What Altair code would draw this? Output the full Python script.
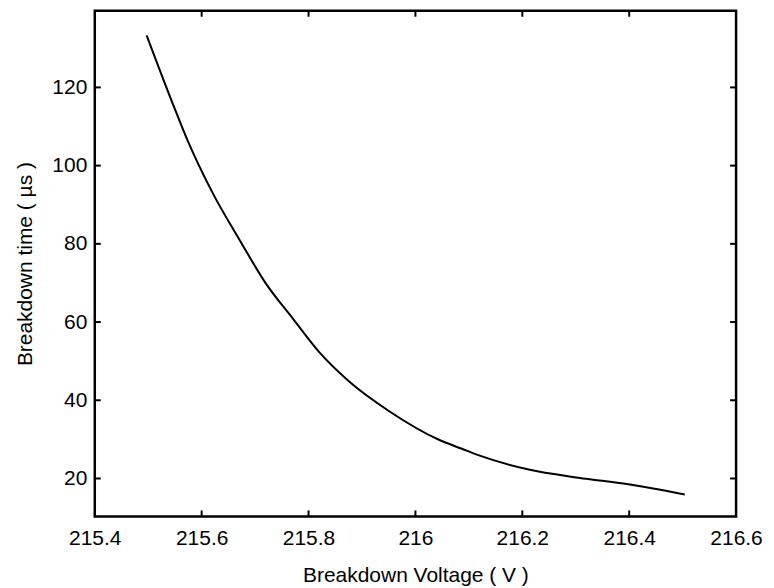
import altair as alt
import pandas as pd

voltage = [215.497, 215.546, 215.571, 215.621, 215.671, 215.720, 215.770,
           215.820, 215.876, 215.951, 216.044, 216.087, 216.119, 216.212, 216.305,
           216.398, 216.504]
time_us = [133.3, 115.8, 107.3, 92.9, 81.0, 69.9, 61.0,
           52.3, 44.8, 37.2, 29.9, 27.6, 25.9, 22.3, 20.2,
           18.5, 15.9]

x_ticks = [215.4, 215.6, 215.8, 216.0, 216.2, 216.4, 216.6]
y_ticks = [20, 40, 60, 80, 100, 120]
x_inner_ticks = [215.6, 215.8, 216.0, 216.2, 216.4]

W, H = 643, 507
FONT = "Liberation Sans"

df = pd.DataFrame({"v": voltage, "t": time_us})
xt = pd.DataFrame({"v": x_inner_ticks})
yt = pd.DataFrame({"t": y_ticks})

xscale = alt.Scale(domain=[215.4, 216.6], nice=False, zero=False)
yscale = alt.Scale(domain=[10.3, 139.6], nice=False, zero=False)

line = alt.Chart(df).mark_line(color="black", strokeWidth=2, interpolate="monotone").encode(
    x=alt.X("v:Q", scale=xscale,
            axis=alt.Axis(values=x_ticks, title="Breakdown Voltage ( V )",
                          labelExpr="datum.value == 216 ? '216' : format(datum.value, '.1f')",
                          tickSize=0, domain=False, grid=False,
                          labelFontSize=21, labelFont=FONT, labelColor="black",
                          labelPadding=11, labelFlush=False,
                          titleFontSize=21, titleFont=FONT, titleFontWeight="normal",
                          titleColor="black", titlePadding=16)),
    y=alt.Y("t:Q", scale=yscale,
            axis=alt.Axis(values=y_ticks, title="Breakdown time ( µs )",
                          tickSize=0, domain=False, grid=False,
                          labelFontSize=21, labelFont=FONT, labelColor="black",
                          labelPadding=8, labelFlush=False,
                          titleFontSize=21, titleFont=FONT, titleFontWeight="normal",
                          titleColor="black", titlePadding=16)),
)

xtick_bottom = alt.Chart(xt).mark_rule(color="black", strokeWidth=2).encode(
    x=alt.X("v:Q", scale=xscale), y=alt.value(H), y2=alt.value(H - 6))
xtick_top = alt.Chart(xt).mark_rule(color="black", strokeWidth=2).encode(
    x=alt.X("v:Q", scale=xscale), y=alt.value(0), y2=alt.value(6))
ytick_left = alt.Chart(yt).mark_rule(color="black", strokeWidth=2).encode(
    y=alt.Y("t:Q", scale=yscale), x=alt.value(0), x2=alt.value(6))
ytick_right = alt.Chart(yt).mark_rule(color="black", strokeWidth=2).encode(
    y=alt.Y("t:Q", scale=yscale), x=alt.value(W), x2=alt.value(W - 6))

chart = alt.layer(line, xtick_bottom, xtick_top, ytick_left, ytick_right).properties(
    width=W, height=H,
    autosize=alt.AutoSizeParams(type="none"),
    padding={"left": 87, "top": 2, "right": 30, "bottom": 70},
    background="white",
).configure_view(stroke="black", strokeWidth=2.5)

chart.save("out.html", embed_options={"renderer": "svg", "actions": False})
